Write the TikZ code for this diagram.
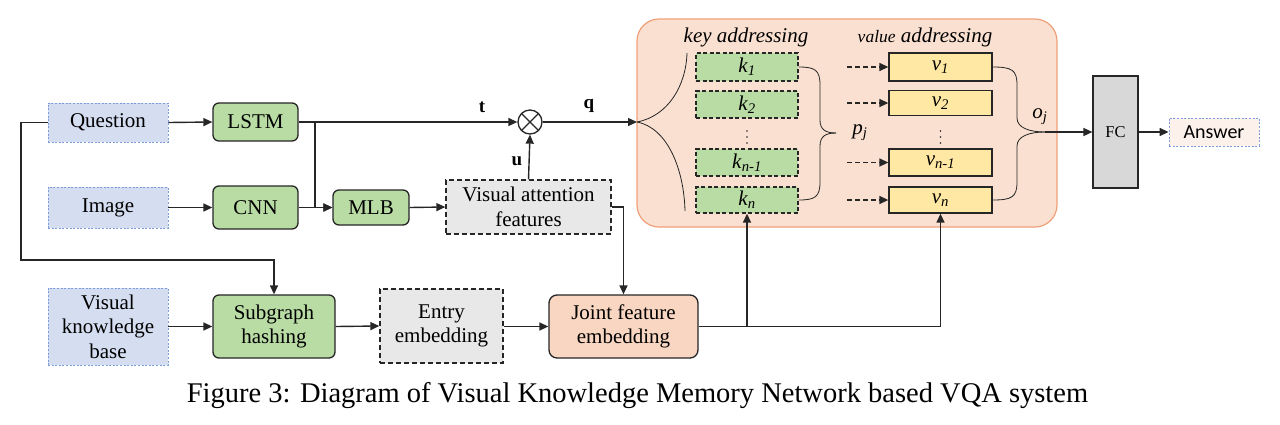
\documentclass[tikz,border=0pt]{standalone}
\usepackage{fontspec}
\setmainfont{Liberation Serif}
\newfontfamily\answerfont{Carlito}
\usetikzlibrary{arrows.meta}
\definecolor{bluefill}{HTML}{D5DEF1}
\definecolor{blueline}{HTML}{7C9CDC}
\definecolor{greenfill}{HTML}{B9DCA5}
\definecolor{grayfill}{HTML}{E8E8E8}
\definecolor{fcfill}{HTML}{D8D8D8}
\definecolor{memfill}{HTML}{FAE0D0}
\definecolor{memline}{HTML}{F0A079}
\definecolor{jointfill}{HTML}{F8D6C1}
\definecolor{valfill}{HTML}{FFE8A4}
\definecolor{ansfill}{HTML}{FDF1EC}
\definecolor{ink}{HTML}{262626}
\newcommand\boxfont{\rmfamily\upshape\mdseries\fontsize{21}{24.5}\selectfont}
\tikzset{
  lbl/.style={font=\boxfont, align=center, inner sep=0pt},
  inbox/.style={lbl, draw=blueline, fill=bluefill, line width=0.9pt, dash pattern=on 2pt off 1.6pt, minimum width=120pt},
  gbox/.style={lbl, draw=ink, fill=greenfill, line width=1.3pt, rounded corners=6pt},
  dbox/.style={lbl, draw=ink, fill=grayfill, line width=1.3pt, dash pattern=on 5pt off 3pt},
  kbox/.style={lbl, draw=ink, fill=greenfill, line width=1.3pt, dash pattern=on 4pt off 2.5pt, minimum width=102pt},
  vbox/.style={lbl, draw=ink, fill=valfill, line width=1.3pt, minimum width=103pt},
  conn/.style={draw=ink, line width=1.4pt, -{Triangle[length=9pt,width=8pt]}},
  dconn/.style={draw=ink, line width=1.4pt, dash pattern=on 5pt off 3pt, -{Triangle[length=9pt,width=8pt]}},
  brace/.style={draw=ink, line width=0.8pt},
  sym/.style={font=\rmfamily\bfseries\fontsize{19}{22}\selectfont, inner sep=0pt},
  dotmark/.style={circle, fill=ink, inner sep=0pt, minimum size=1.8pt},
}
\begin{document}
\begin{tikzpicture}[x=1pt,y=-1pt]
\useasboundingbox (0,0) rectangle (1280,424);
% memory box
\node[draw=memline, fill=memfill, line width=1.2pt, rounded corners=22pt, minimum width=420pt, minimum height=208pt, inner sep=0pt] (mem) at (847,123) {};
% inputs
\node[inbox, minimum height=39pt] (question) at (108,122.5) {Question};
\node[inbox, minimum height=41pt] (image) at (108,207.5) {Image};
\node[inbox, minimum height=77pt] (vkb) at (108,326.5) {Visual\\knowledge\\base};
% processing
\node[gbox, minimum width=85pt, minimum height=38pt] (lstm) at (255.5,122) {LSTM};
\node[gbox, minimum width=85pt, minimum height=43pt] (cnn) at (255.5,207.5) {CNN};
\node[gbox, minimum width=76pt, minimum height=35pt] (mlb) at (371,207.5) {MLB};
\node[gbox, minimum width=122pt, minimum height=63pt] (sub) at (274,326.5) {Subgraph\\hashing};
\node[dbox, minimum width=123pt, minimum height=74pt] (entry) at (441.5,326) {Entry\\embedding};
\node[dbox, minimum width=165pt, minimum height=54pt] (vaf) at (528.5,207) {Visual attention\\features};
\node[lbl, draw=ink, fill=jointfill, line width=1.3pt, rounded corners=8pt, minimum width=149pt, minimum height=63pt] (joint) at (623.5,326.5) {Joint feature\\embedding};
\node[circle, draw=ink, line width=1.3pt, fill=white, minimum size=24pt, inner sep=0pt,
  path picture={\draw[ink, line width=1.1pt] (path picture bounding box.north west) -- (path picture bounding box.south east)
  (path picture bounding box.north east) -- (path picture bounding box.south west);}] (otimes) at (530,122) {};
% keys and values
\node[kbox, minimum height=28pt] (k1) at (747,67) {\textit{k}\textsubscript{\textit{1}}};
\node[kbox, minimum height=27pt] (k2) at (747,104.5) {\textit{k}\textsubscript{\textit{2}}};
\node[kbox, minimum height=27pt] (kn1) at (747,162.5) {\textit{k}\textsubscript{\textit{n-1}}};
\node[kbox, minimum height=26pt] (kn) at (747,200) {\textit{k}\textsubscript{\textit{n}}};
\node[vbox, minimum height=28pt] (v1) at (940.5,67) {\textit{v}\textsubscript{\textit{1}}};
\node[vbox, minimum height=25pt] (v2) at (940.5,103) {\textit{v}\textsubscript{\textit{2}}};
\node[vbox, minimum height=27pt] (vn1) at (940.5,162.5) {\textit{v}\textsubscript{\textit{n-1}}};
\node[vbox, minimum height=26pt] (vn) at (940.5,200) {\textit{v}\textsubscript{\textit{n}}};
\foreach \yy [count=\i] in {131,137,143}{
  \node[dotmark] (kd\i) at (747,\yy) {};
  \node[dotmark] (vd\i) at (940.5,\yy) {};
}
\node[lbl, font=\boxfont\itshape] (keyad) at (746,37) {key addressing};
\node[lbl, font=\boxfont\itshape] (valad) at (925,37) {{\fontsize{17.5}{20}\selectfont value} addressing};
\node[lbl] (pj) at (860,133) {\textit{p}\textsubscript{\textit{j}}};
\node[lbl] (oj) at (1040,117) {\textit{o}\textsubscript{\textit{j}}};
% FC and answer
\node[lbl, draw=ink, fill=fcfill, line width=1.2pt, minimum width=45pt, minimum height=112pt, font=\rmfamily\fontsize{16.5}{19}\selectfont] (fc) at (1115.5,132) {FC};
\node[lbl, draw=blueline, fill=ansfill, line width=0.9pt, dash pattern=on 2pt off 1.6pt, minimum width=90pt, minimum height=28pt, font=\answerfont\fontsize{20}{22}\selectfont] (ans) at (1214,132) {Answer};
% labels
\node[sym] (tlab) at (482,107) {t};
\node[sym] (qlab) at (589,106) {q};
\node[sym] (ulab) at (517,161) {u};
% coordinates
\coordinate (br) at (315,122);
\coordinate (qa) at (21,122.5);
\coordinate (qb) at (21,260);
\coordinate (tip) at (637,122);
\coordinate (ojtip) at (1045,132);
% connectors
\draw[conn] (question.east) -- (lstm.west);
\draw[conn] (image.east) -- (cnn.west);
\draw[conn] (vkb.east) -- (sub.west);
\draw[conn] (lstm.east) -- (otimes.west);
\draw[conn] (br) |- (mlb.west);
\draw[conn] (cnn.east) -- (mlb.west);
\draw[conn] (mlb.east) -- (vaf.west);
\draw[conn] (vaf.north) -- (otimes.south);
\draw[conn] (vaf.east) -| (joint.north);
\draw[conn] (question.west) -- (qa) -- (qb) -| (sub.north);
\draw[conn] (sub.east) -- (entry.west);
\draw[conn] (entry.east |- joint.west) -- (joint.west);
\draw[conn] (otimes.east) -- (tip);
\draw[conn] (joint.east) -| (kn.south);
\draw[conn] (joint.east) -| (vn.south);
\draw[conn] (ojtip) -- (fc.west);
\draw[conn] (fc.east) -- (ans.west);
\foreach \v in {v1,v2,vn1,vn}{
  \draw[dconn] ([xshift=-41pt]\v.west) -- (\v.west);
}
% braces
\draw[brace] (tip) .. controls (668,116) and (686,86) .. (687,53);
\draw[brace] (tip) .. controls (668,128) and (684,170) .. (685,211);
\draw[brace] (k1.east) .. controls (815,67) and (820,70) .. (820,85) -- (820,120) .. controls (820,130) and (826,133) .. (836,133);
\draw[brace] (kn.east) .. controls (815,200) and (820,197) .. (820,182) -- (820,146) .. controls (820,136) and (826,133) .. (836,133);
\draw[brace] (v1.east) .. controls (1012,67) and (1017,70) .. (1017,85) -- (1017,118) .. controls (1017,128) and (1030,132) .. (ojtip);
\draw[brace] (vn.east) .. controls (1012,200) and (1017,197) .. (1017,182) -- (1017,146) .. controls (1017,136) and (1030,132) .. (ojtip);
% caption
\node[inner sep=0pt, font=\rmfamily\fontsize{28.5}{32}\selectfont] (cap) at (637.5,396) {Figure 3: Diagram of Visual Knowledge Memory Network based VQA system};
\end{tikzpicture}
\end{document}
